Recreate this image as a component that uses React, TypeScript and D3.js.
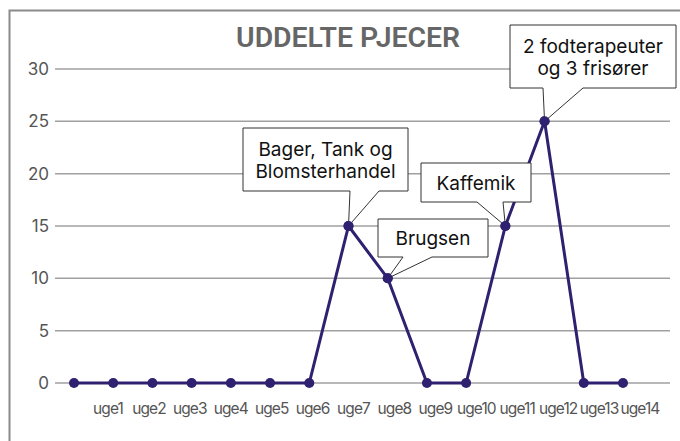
import React, { useEffect, useRef } from "react";
import * as d3 from "d3";

// weekly counts (15 points, first one before uge1)
const points: number[] = [0, 0, 0, 0, 0, 0, 0, 15, 10, 0, 0, 15, 25, 0, 0];
const weekLabels: string[] = [
  "uge1", "uge2", "uge3", "uge4", "uge5", "uge6", "uge7",
  "uge8", "uge9", "uge10", "uge11", "uge12", "uge13", "uge14",
];
const yTicks: number[] = [0, 5, 10, 15, 20, 25, 30];
const title = "UDDELTE PJECER";

interface Callout {
  index: number;
  lines: string[];
  box: [number, number, number, number]; // x, y, w, h
  base: [number, number];
}

const callouts: Callout[] = [
  { index: 7, lines: ["Bager, Tank og", "Blomsterhandel"], box: [243, 128, 165, 63], base: [350, 379] },
  { index: 8, lines: ["Brugsen"], box: [378, 219, 110, 38], base: [403, 432] },
  { index: 11, lines: ["Kaffemik"], box: [421, 163, 110, 39], base: [477, 503] },
  { index: 12, lines: ["2 fodterapeuter", "og 3 frisører"], box: [510, 25, 166, 63], base: [543, 583] },
];

const W = 680;
const H = 441;
const LINE = "#2f2070";

const App: React.FC = () => {
  const svgRef = useRef<SVGSVGElement | null>(null);

  useEffect(() => {
    if (!svgRef.current) return;
    const svg = d3.select(svgRef.current);
    svg.selectAll("*").remove();

    const x = d3.scalePoint<number>()
      .domain(points.map((_, i) => i))
      .range([74, 623]);
    const xl = d3.scalePoint<string>()
      .domain(weekLabels)
      .range([108, 640]);
    const y = d3.scaleLinear().domain([0, 30]).range([383, 69]);

    // frame (cropped: only left + top visible)
    svg.append("path")
      .attr("d", `M9.5,${H} L9.5,10.5 L${W},10.5`)
      .attr("fill", "none")
      .attr("stroke", "#8a8a8a")
      .attr("stroke-width", 2);

    svg.append("text")
      .attr("x", 236)
      .attr("y", 47)
      .attr("textLength", 224)
      .attr("lengthAdjust", "spacingAndGlyphs")
      .style("font-family", "Roboto, sans-serif")
      .style("font-weight", 600)
      .style("font-size", "28px")
      .attr("fill", "#666")
      .text(title);

    // grid
    svg.append("g")
      .selectAll("line")
      .data(yTicks)
      .enter()
      .append("line")
      .attr("x1", 55)
      .attr("x2", 670)
      .attr("y1", d => y(d))
      .attr("y2", d => y(d))
      .attr("stroke", "#a0a0a0")
      .attr("stroke-width", 1.5);

    svg.append("g")
      .selectAll("text")
      .data(yTicks)
      .enter()
      .append("text")
      .attr("x", 49)
      .attr("y", d => y(d) + 6)
      .attr("text-anchor", "end")
      .style("font-family", "Inter, sans-serif")
      .style("font-size", "17px")
      .attr("fill", "#555")
      .text(d => d);

    svg.append("g")
      .selectAll("text")
      .data(weekLabels)
      .enter()
      .append("text")
      .attr("x", d => xl(d)!)
      .attr("y", 414)
      .attr("text-anchor", "middle")
      .style("font-family", "Inter, sans-serif")
      .style("font-size", "15.5px")
      .style("letter-spacing", "-0.9px")
      .attr("fill", "#555")
      .text(d => d);

    const line = d3.line<number>()
      .x((_, i) => x(i)!)
      .y(d => y(d));

    svg.append("path")
      .datum(points)
      .attr("d", line)
      .attr("fill", "none")
      .attr("stroke", LINE)
      .attr("stroke-width", 3)
      .attr("stroke-linejoin", "round");

    svg.append("g")
      .selectAll("circle")
      .data(points)
      .enter()
      .append("circle")
      .attr("cx", (_, i) => x(i)!)
      .attr("cy", d => y(d))
      .attr("r", 5)
      .attr("fill", LINE);

    // callouts
    callouts.forEach(c => {
      const [bx, by, bw, bh] = c.box;
      const px = x(c.index)!;
      const py = y(points[c.index]);
      const [b0, b1] = c.base;
      const bottom = by + bh;
      const d = `M${bx},${by} H${bx + bw} V${bottom} H${b1} L${px},${py} L${b0},${bottom} H${bx} Z`;
      const g = svg.append("g");
      g.append("path")
        .attr("d", d)
        .attr("fill", "#fff")
        .attr("stroke", "#333")
        .attr("stroke-width", 1);
      const lh = 22;
      const cy = by + bh / 2 - ((c.lines.length - 1) * lh) / 2 + 7;
      c.lines.forEach((t, i) => {
        g.append("text")
          .attr("x", bx + bw / 2)
          .attr("y", cy + i * lh)
          .attr("text-anchor", "middle")
          .style("font-family", "Inter, sans-serif")
          .style("font-size", "19px")
          .attr("fill", "#111")
          .text(t);
      });
    });

    // re-draw the points touched by callouts on top
    svg.append("g")
      .selectAll("circle")
      .data(callouts)
      .enter()
      .append("circle")
      .attr("cx", c => x(c.index)!)
      .attr("cy", c => y(points[c.index]))
      .attr("r", 5)
      .attr("fill", LINE);
  }, []);

  return (
    <svg
      ref={svgRef}
      width={W}
      height={H}
      style={{ position: "absolute", left: 0, top: 0, background: "#fff" }}
    />
  );
};

export default App;
